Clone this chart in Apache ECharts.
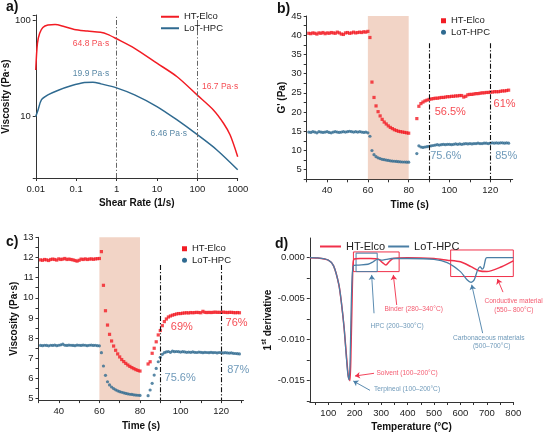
<!DOCTYPE html>
<html>
<head>
<meta charset="utf-8">
<script src="https://cdn.jsdelivr.net/npm/echarts@6/dist/echarts.min.js"></script>
<style>
  html, body { margin: 0; padding: 0; background: #fff; }
  #chart { width: 550px; height: 439px; }
</style>
</head>
<body>
<div id="chart"></div>
<script>
// ---- a) viscosity vs shear rate (log-log)
const aRateHT = [0.01, 0.011, 0.0125, 0.015, 0.02, 0.03, 0.05, 0.09, 0.19, 0.4, 0.6, 1, 2.8, 10, 31.6, 100, 250, 445, 650, 1000];
const aViscHT = [30.6, 58, 74, 85, 90, 91, 87, 81, 78, 75.5, 72, 64.8, 51.5, 36, 26, 16.7, 11.7, 8.5, 6.4, 3.8];
const aRateLoT = [0.01, 0.0114, 0.0138, 0.02, 0.035, 0.075, 0.16, 0.26, 0.41, 1, 2.8, 10, 31.6, 100, 300, 1000];
const aViscLoT = [10, 11.7, 14.9, 16.8, 18.7, 20.9, 22.6, 22.8, 21.9, 19.9, 16.8, 12.7, 9.2, 6.46, 4.5, 2.78];
const aGuides = [1, 100];
const aNotes = [
  ['64.8 Pa·s', 0.234, 58, 'HT'], ['19.9 Pa·s', 0.234, 28.3, 'LoT'],
  ['16.7 Pa·s', 368, 20.5, 'HT'], ['6.46 Pa·s', 19.7, 6.54, 'LoT']
];

// ---- b), c) time sweeps (same sampling)
const timeS = [31, 32, 33, 34, 35, 36, 37, 38, 39, 40, 41, 42, 43, 44, 45, 46, 47, 48, 49, 50,
  51, 52, 53, 54, 55, 56, 57, 58, 59, 60,
  61, 62, 63, 64, 65, 66, 67, 68, 69, 70, 71, 72, 73, 74, 75, 76, 77, 78, 79, 80,
  84, 85, 86, 87, 88, 89, 90, 91, 92, 93, 94, 95, 96, 97, 98, 99, 100, 101, 102, 103,
  104, 105, 106, 107, 108, 109, 110, 111, 112, 113, 114, 115, 116, 117, 118, 119, 120, 121, 122, 123,
  124, 125, 126, 127, 128, 129];
const bGHT = [40.5, 40.4, 40.6, 40.5, 40.3, 40.6, 40.5, 40.7, 40.4, 40.6, 40.5, 40.7, 40.6, 40.5, 40.8, 40.6, 40.3, 40.2, 40.6, 40.7,
  40.5, 40.6, 40.8, 40.6, 40.7, 40.8, 40.7, 40.9, 40.8, 41.0,
  39.4, 27.8, 23.8, 21.6, 20.1, 19.0, 18.1, 17.4, 16.9, 16.4, 16.0, 15.7, 15.4, 15.2, 15.0, 14.9, 14.8, 14.7, 14.6, 14.5,
  18.3, 21.5, 22.2, 22.6, 22.9, 23.1, 23.3, 23.4, 23.5, 23.6, 23.6, 23.7, 23.8, 23.8, 23.9, 24.0, 24.0, 24.1, 24.1, 24.2,
  24.2, 24.3, 24.3, 23.9, 24.1, 24.5, 24.6, 24.6, 24.7, 24.8, 24.8, 24.9, 25.0, 25.0, 25.1, 25.1, 25.2, 25.2, 25.3, 25.3,
  25.3, 25.4, 25.5, 25.5, 25.6, 25.7];
const bGLoT = [14.8, 14.7, 14.9, 14.8, 14.6, 14.9, 14.8, 14.7, 14.8, 14.9, 14.7, 14.6, 14.8, 14.9, 14.8, 14.7, 14.8, 14.9, 14.8, 14.9,
  15.0, 14.9, 14.8, 14.9, 14.8, 14.9, 14.8, 14.7, 14.8, 14.6,
  13.7, 10.0, 8.9, 8.4, 8.1, 7.9, 7.7, 7.6, 7.5, 7.4, 7.3, 7.25, 7.2, 7.15, 7.1, 7.05, 7.0, 7.0, 6.95, 6.95,
  9.2, 11.2, 10.9, 10.8, 10.9, 11.0, 11.1, 11.2, 11.3, 11.4, 11.5, 11.4, 11.5, 11.6, 11.5, 11.6, 11.6, 11.5, 11.6, 11.7,
  11.6, 11.7, 11.6, 11.7, 11.8, 11.7, 11.8, 11.7, 11.8, 11.8, 11.9, 11.8, 11.8, 11.9, 11.9, 11.8, 11.9, 12.0, 11.9, 12.0,
  11.9, 12.0, 12.0, 11.9, 12.0, 11.9];
const cViscHT = [11.88, 11.86, 11.9, 11.88, 11.85, 11.9, 11.92, 11.9, 11.87, 11.93, 11.9, 11.92, 11.95, 11.9, 11.92, 11.9, 11.88, 11.85, 11.82, 11.86,
  11.92, 11.9, 11.93, 11.9, 11.92, 11.93, 11.91, 11.93, 11.94, 11.95,
  12.29, 10.62, 9.36, 8.65, 8.19, 7.86, 7.61, 7.4, 7.22, 7.07, 6.94, 6.84, 6.75, 6.67, 6.6, 6.54, 6.49, 6.44, 6.4, 6.37,
  6.72, 6.83, 7.25, 7.5, 7.82, 8.16, 8.38, 8.62, 8.82, 8.95, 9.05, 9.1, 9.14, 9.17, 9.2, 9.22, 9.22, 9.24, 9.25, 9.26,
  9.25, 9.27, 9.26, 9.27, 9.28, 9.27, 9.26, 9.33, 9.28, 9.27, 9.28, 9.27, 9.28, 9.29, 9.28, 9.28, 9.28, 9.29, 9.28, 9.27,
  9.28, 9.28, 9.27, 9.26, 9.27, 9.26];
const cViscLoT = [7.64, 7.63, 7.65, 7.64, 7.62, 7.65, 7.64, 7.66, 7.63, 7.65, 7.67, 7.7, 7.65, 7.64, 7.66, 7.65, 7.64, 7.63, 7.66, 7.65,
  7.64, 7.66, 7.65, 7.63, 7.65, 7.66, 7.64, 7.65, 7.63, 7.62,
  7.28, 6.62, 6.16, 5.84, 5.68, 5.58, 5.5, 5.44, 5.39, 5.35, 5.32, 5.29, 5.26, 5.24, 5.22, 5.21, 5.19, 5.18, 5.17, 5.16,
  5.15, 5.43, 5.76, 6.17, 6.5, 6.83, 7.05, 7.2, 7.28, 7.32, 7.34, 7.3, 7.36, 7.33, 7.34, 7.33, 7.31, 7.33, 7.32, 7.3,
  7.31, 7.3, 7.32, 7.3, 7.29, 7.31, 7.3, 7.28, 7.3, 7.29, 7.28, 7.3, 7.28, 7.29, 7.27, 7.29, 7.28, 7.27, 7.28, 7.27,
  7.26, 7.27, 7.25, 7.24, 7.23, 7.22];
const shearWindow = [60, 80];
const timeGuides = [90, 120];
const timeTicks = [30, 40, 50, 60, 70, 80, 90, 100, 110, 120, 130];
const timeLabels = [40, 60, 80, 100, 120];
const bTicks = [2.5, 5, 7.5, 10, 12.5, 15, 17.5, 20, 22.5, 25, 27.5, 30, 32.5, 35, 37.5, 40, 42.5, 45];
const bLabels = [5, 10, 15, 20, 25, 30, 35, 40, 45];
const bNotes = [['56.5%', 100.4, 19.9, 'HT'], ['61%', 127, 22.2, 'HT'], ['75.6%', 98.2, 8.6, 'LoT'], ['85%', 127.8, 8.6, 'LoT']];
const cTicks = [5, 5.5, 6, 6.5, 7, 7.5, 8, 8.5, 9, 9.5, 10, 10.5, 11, 11.5, 12, 12.5, 13];
const cLabels = [5, 6, 7, 8, 9, 10, 11, 12, 13];
const cNotes = [['69%', 100.6, 8.57, 'HT'], ['76%', 127.6, 8.73, 'HT'], ['75.6%', 99.8, 6.04, 'LoT'], ['87%', 128.4, 6.42, 'LoT']];

// ---- d) DTG curves
const dTempHT = [30, 60, 100, 120, 140, 150, 160, 170, 176, 182, 186, 190, 193, 197, 220, 260, 290, 305, 318, 330, 345, 400, 500, 550, 600, 640, 670, 700, 756, 800];
const dDerHT = [0, -0.00003, -0.0003, -0.001, -0.0033, -0.0056, -0.0086, -0.0125, -0.0145, -0.0150, -0.011, -0.005, -0.0012, -0.0002, -0.0001, -0.0001, -0.0002, -0.0006, -0.0009, -0.0005, -0.0001, 0, -0.0001, -0.0003, -0.0005, -0.0011, -0.0016, -0.0017, -0.0011, -0.0004];
const dTempLoT = [30, 60, 100, 120, 140, 150, 160, 168, 174, 179, 183, 186, 190, 195, 210, 250, 270, 285, 300, 320, 340, 400, 500, 550, 600, 625, 640, 652, 665, 675, 682, 688, 695, 700, 800];
const dDerLoT = [0, -0.00003, -0.0003, -0.001, -0.0033, -0.0056, -0.0086, -0.012, -0.0142, -0.0149, -0.012, -0.007, -0.0025, -0.001, -0.0009, -0.0008, -0.0005, -0.0002, -0.0003, -0.0002, -0.0001, -0.0001, -0.0002, -0.0006, -0.0017, -0.0027, -0.003, -0.0027, -0.0015, -0.0011, -0.0014, -0.0012, -0.0002, 0, 0];
const dTicksX = [50, 100, 150, 200, 250, 300, 350, 400, 450, 500, 550, 600, 650, 700, 750, 800];
const dLabelsX = [100, 200, 300, 400, 500, 600, 700, 800];
const dTicksY = [0, -0.0025, -0.005, -0.0075, -0.01, -0.0125, -0.015, -0.0175];
const dLabelsY = [0, -0.005, -0.01, -0.015];
const dBoxes = [[[195, 0.0007], [368, -0.0017], 'HT'], [[205, 0.00055], [285, -0.0017], 'LoT'], [[563, 0.00094], [800, -0.0023], 'HT']];
const dArrows = [
  [[358.8, -0.00577], [346, -0.0021], 'HT'], [[273, -0.00678], [264, -0.0021], 'LoT'],
  [[273, -0.0141], [201, -0.01443], 'HT'], [[257.8, -0.01618], [194.6, -0.01504], 'LoT'],
  [[761, -0.0042], [740, -0.0026], 'HT'], [[684, -0.0092], [642.6, -0.0033], 'LoT']
];
const dNotes = [
  ['Binder (280–340°C)', 423, -0.00626, 'HT'], ['HPC (200–300°C)', 360, -0.00841, 'LoT'],
  ['Solvent (100–200°C)', 398, -0.0141, 'HT'], ['Terpineol (100–200°C)', 398, -0.01605, 'LoT'],
  ['Conductive material', 801, -0.00528, 'HT'], ['(550– 800°C)', 802, -0.00638, 'HT'],
  ['Carbonaceous materials', 707, -0.00983, 'LoT'], ['(500–700°C)', 718, -0.01085, 'LoT']
];

const FONT = "'Liberation Sans', Arial, sans-serif";
const RED = '#f21c24';
const BLUE = '#2f6a90';
const RED_D = '#f0304a';
const BLUE_D = '#4a7ea5';
const NOTE_BLUE = '#4a7fa8';
const SHADE = 'rgba(226,160,128,0.45)';
const col = { HT: RED, LoT: BLUE };
const colD = { HT: RED_D, LoT: NOTE_BLUE };

const zip = (xs, ys) => xs.map((x, i) => [x, ys[i]]);
const isPow10 = v => Math.abs(Math.log10(v) - Math.round(Math.log10(v))) < 1e-6;
const pow10Label = v => isPow10(v) ? String(Math.pow(10, Math.round(Math.log10(v)))) : '';

function axis(idx, opt) {
  return Object.assign({
    gridIndex: idx,
    nameLocation: 'middle',
    nameTextStyle: { fontSize: 10, fontWeight: 'bold', color: '#111', fontFamily: FONT },
    axisLine: { show: true, onZero: false, lineStyle: { color: '#333', width: 1 } },
    splitLine: { show: false }
  }, opt);
}
const tick = extra => Object.assign({ show: true, length: 3, lineStyle: { color: '#333' } }, extra);
const lab = extra => Object.assign({ fontSize: 9.5, color: '#222', fontFamily: FONT, margin: 5 }, extra);

function notes(list, idx, size, colors) {
  return {
    type: 'scatter', xAxisIndex: idx, yAxisIndex: idx, silent: true, symbolSize: 0, z: 6, clip: false,
    label: { show: true, position: 'inside', fontSize: size, fontFamily: FONT },
    data: list.map(n => ({ value: [n[1], n[2]], label: { formatter: n[0], color: colors[n[3]] } }))
  };
}

function guides(xs, top, bottom, color) {
  return {
    silent: true, symbol: 'none', label: { show: false },
    lineStyle: { color: color, width: 1.1, type: [5, 2, 1.2, 2] },
    data: xs.map(x => [{ coord: [x, top] }, { coord: [x, bottom] }])
  };
}

function dMarks(key) {
  return {
    markArea: {
      silent: true,
      data: dBoxes.filter(b => b[2] === key).map(b => [
        { coord: b[0], itemStyle: { color: 'rgba(0,0,0,0)', borderColor: colD[key], borderWidth: 1 } },
        { coord: b[1] }
      ])
    },
    markLine: {
      silent: true, symbol: ['none', 'arrow'], symbolSize: 5, label: { show: false },
      lineStyle: { color: colD[key], width: 0.9, type: 'solid' },
      data: dArrows.filter(a => a[2] === key).map(a => [{ coord: a[0] }, { coord: a[1] }])
    }
  };
}

const legendText = size => ({ fontSize: size, color: '#222', fontFamily: FONT, lineHeight: size + 2 });

const chart = echarts.init(document.getElementById('chart'));
chart.setOption({
  animation: false,
  backgroundColor: '#fff',
  title: [
    { text: 'a)', left: 6, top: 0 },
    { text: 'b)', left: 277, top: 2 },
    { text: 'c)', left: 6, top: 235 },
    { text: 'd)', left: 275, top: 237 }
  ].map(t => Object.assign(t, { padding: 0, textStyle: { fontSize: 14, fontWeight: 'bold', color: '#111', fontFamily: FONT } })),
  legend: [
    { left: 156, top: 6, orient: 'vertical', itemGap: 0, itemWidth: 18, itemHeight: 2, icon: 'rect', selectedMode: false,
      textStyle: legendText(9.5),
      data: [{ name: 'HT-Elco', itemStyle: { color: RED } }, { name: 'LoT-HPC', itemStyle: { color: BLUE } }] },
    { left: 436, top: 10, orient: 'vertical', itemGap: 0, itemWidth: 5, itemHeight: 5, selectedMode: false,
      textStyle: legendText(9.5),
      data: [{ name: 'HT-Elco', icon: 'rect', itemStyle: { color: RED } }, { name: 'LoT-HPC', icon: 'circle', itemStyle: { color: BLUE } }] },
    { left: 177, top: 238, orient: 'vertical', itemGap: 0, itemWidth: 5, itemHeight: 5, selectedMode: false,
      textStyle: legendText(9.5),
      data: [{ name: 'HT-Elco', icon: 'rect', itemStyle: { color: RED } }, { name: 'LoT-HPC', icon: 'circle', itemStyle: { color: BLUE } }] },
    { left: 315, top: 235, orient: 'horizontal', itemGap: 3, itemWidth: 21, itemHeight: 2, icon: 'rect', selectedMode: false,
      textStyle: legendText(11),
      data: [{ name: 'HT-Elco', itemStyle: { color: RED_D } }, { name: 'LoT-HPC', itemStyle: { color: BLUE_D } }] }
  ],
  grid: [
    { left: 34.3, top: 15, width: 203.4, height: 163 },
    { left: 306.7, top: 16, width: 206, height: 163.3 },
    { left: 38.5, top: 237.3, width: 205, height: 162.8 },
    { left: 309.8, top: 238, width: 203.5, height: 164 }
  ],
  xAxis: [
    axis(0, { type: 'log', logBase: 10, min: 0.01, max: 1000, name: 'Shear Rate (1/s)', nameGap: 20,
      axisTick: tick(), axisLabel: lab({ formatter: pow10Label, margin: 6 }) }),
    axis(1, { type: 'value', min: 30, max: 131, name: 'Time (s)', nameGap: 21,
      axisTick: tick({ customValues: timeTicks }), axisLabel: lab({ customValues: timeLabels, margin: 6 }) }),
    axis(2, { type: 'value', min: 30, max: 131, name: 'Time (s)', nameGap: 21,
      axisTick: tick({ customValues: timeTicks }), axisLabel: lab({ customValues: timeLabels, margin: 6 }) }),
    axis(3, { type: 'value', min: 30, max: 800, name: 'Temperature (°C)', nameGap: 20,
      axisTick: tick({ customValues: dTicksX }), axisLabel: lab({ customValues: dLabelsX, margin: 6 }) })
  ],
  yAxis: [
    axis(0, { type: 'log', logBase: 10, min: 2.28, max: 114.6, name: 'Viscosity (Pa·s)', nameGap: 20,
      axisTick: tick(), axisLabel: lab({ formatter: pow10Label }) }),
    axis(1, { type: 'value', min: 2.5, max: 45, name: "G' (Pa)", nameGap: 19,
      axisTick: tick({ customValues: bTicks }), axisLabel: lab({ customValues: bLabels }) }),
    axis(2, { type: 'value', min: 4.93, max: 13, name: 'Viscosity (Pa·s)', nameGap: 19,
      axisTick: tick({ customValues: cTicks }), axisLabel: lab({ customValues: cLabels }) }),
    axis(3, { type: 'value', min: -0.0176, max: 0.0024, nameGap: 35,
      name: '{n|1}{s|st}{n| derivative}',
      nameTextStyle: { rich: {
        n: { fontSize: 10, fontWeight: 'bold', color: '#111', fontFamily: FONT, lineHeight: 14 },
        s: { fontSize: 6.5, fontWeight: 'bold', color: '#111', fontFamily: FONT, lineHeight: 14, verticalAlign: 'top', padding: [0, 0, 5, 0] }
      } },
      axisTick: tick({ customValues: dTicksY }),
      axisLabel: lab({ customValues: dLabelsY, formatter: v => v.toFixed(3) }) })
  ],
  series: [
    { name: 'HT-Elco', type: 'line', xAxisIndex: 0, yAxisIndex: 0, data: zip(aRateHT, aViscHT), smooth: 0.3,
      showSymbol: false, lineStyle: { color: RED, width: 1.5 }, itemStyle: { color: RED },
      markLine: { silent: true, symbol: 'none', label: { show: false },
        lineStyle: { color: '#666', width: 1, type: [5, 2, 1.2, 2] }, data: aGuides.map(x => ({ xAxis: x })) } },
    { name: 'LoT-HPC', type: 'line', xAxisIndex: 0, yAxisIndex: 0, data: zip(aRateLoT, aViscLoT), smooth: 0.3,
      showSymbol: false, lineStyle: { color: BLUE, width: 1.5 }, itemStyle: { color: BLUE } },
    notes(aNotes, 0, 8.5, col),

    { name: 'HT-Elco', type: 'scatter', xAxisIndex: 1, yAxisIndex: 1, data: zip(timeS, bGHT), symbol: 'rect', symbolSize: 3.2,
      itemStyle: { color: RED },
      markArea: { silent: true, itemStyle: { color: SHADE }, data: [[{ xAxis: shearWindow[0] }, { xAxis: shearWindow[1] }]] },
      markLine: guides(timeGuides, 37.9, 2.5, '#111') },
    { name: 'LoT-HPC', type: 'scatter', xAxisIndex: 1, yAxisIndex: 1, data: zip(timeS, bGLoT), symbol: 'circle', symbolSize: 3.2,
      itemStyle: { color: BLUE } },
    notes(bNotes, 1, 11, { HT: RED, LoT: NOTE_BLUE }),

    { name: 'HT-Elco', type: 'scatter', xAxisIndex: 2, yAxisIndex: 2, data: zip(timeS, cViscHT), symbol: 'rect', symbolSize: 3.2,
      itemStyle: { color: RED },
      markArea: { silent: true, itemStyle: { color: SHADE }, data: [[{ xAxis: shearWindow[0] }, { xAxis: shearWindow[1] }]] },
      markLine: guides(timeGuides, 11.63, 4.93, '#111') },
    { name: 'LoT-HPC', type: 'scatter', xAxisIndex: 2, yAxisIndex: 2, data: zip(timeS, cViscLoT), symbol: 'circle', symbolSize: 3.2,
      itemStyle: { color: BLUE } },
    notes(cNotes, 2, 11, { HT: RED, LoT: NOTE_BLUE }),

    Object.assign({ name: 'HT-Elco', type: 'line', xAxisIndex: 3, yAxisIndex: 3, data: zip(dTempHT, dDerHT), smooth: 0.25,
      showSymbol: false, lineStyle: { color: RED_D, width: 1.5 }, itemStyle: { color: RED_D } }, dMarks('HT')),
    Object.assign({ name: 'LoT-HPC', type: 'line', xAxisIndex: 3, yAxisIndex: 3, data: zip(dTempLoT, dDerLoT), smooth: 0.25,
      showSymbol: false, lineStyle: { color: BLUE_D, width: 1.3 }, itemStyle: { color: BLUE_D } }, dMarks('LoT')),
    notes(dNotes, 3, 6.6, colD)
  ]
});
</script>
</body>
</html>
